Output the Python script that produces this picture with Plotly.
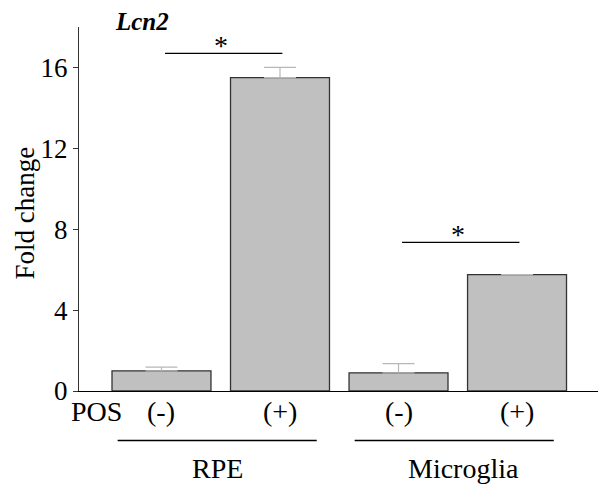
import plotly.graph_objects as go

# data
conditions = ["(-)", "(+)", "(-)", "(+)"]
fold_change = [1.0, 15.5, 0.9, 5.75]
sem = [0.18, 0.5, 0.45, None]
groups = ["RPE", "Microglia"]
group_members = [(0, 1), (2, 3)]
sig_pairs = [(0, 1), (2, 3)]
sig_heights = [16.7, 7.35]
y_ticks = [0, 4, 8, 12, 16]

FONT = "Liberation Serif"
x_pos = list(range(len(conditions)))

fig = go.Figure()
fig.add_trace(go.Bar(
    x=x_pos, y=fold_change, width=0.835,
    marker=dict(color="#c0c0c0", line=dict(color="#333333", width=1.3)),
    error_y=dict(type="data", symmetric=False, array=sem,
                 arrayminus=[0] * len(sem), color="#b8b8b8",
                 thickness=1.2, width=16),
    showlegend=False,
))

shapes = []
annotations = []

# significance bars
for (a, b), h in zip(sig_pairs, sig_heights):
    shapes.append(dict(type="line", xref="x", yref="y", x0=a + 0.03, x1=b + 0.02,
                       y0=h, y1=h, line=dict(color="black", width=1.3)))
    annotations.append(dict(xref="x", yref="y", x=(a + b) / 2, y=h,
                            text="*", showarrow=False, xanchor="center",
                            yanchor="middle", yshift=8,
                            font=dict(family=FONT, size=28, color="black")))

# condition labels under the axis
for xi, lab in zip(x_pos, conditions):
    annotations.append(dict(xref="x", yref="paper", x=xi, y=-0.056, text=lab,
                            showarrow=False, xanchor="center", yanchor="middle",
                            font=dict(family=FONT, size=28, color="black")))
annotations.append(dict(xref="paper", yref="paper", x=0.033, y=-0.056, text="POS",
                        showarrow=False, xanchor="center", yanchor="middle",
                        font=dict(family=FONT, size=28, color="black")))

# group lines and labels
for (name, (a, b)), nudge in zip(zip(groups, group_members), [-0.03, 0.05]):
    shapes.append(dict(type="line", xref="x", yref="paper", x0=a - 0.37, x1=b + 0.31,
                       y0=-0.136, y1=-0.136, line=dict(color="black", width=1.3)))
    annotations.append(dict(xref="x", yref="paper", x=(a + b) / 2 + nudge, y=-0.213,
                            text=name, showarrow=False, xanchor="center",
                            yanchor="middle",
                            font=dict(family=FONT, size=28, color="black")))

# y axis title and gene title
annotations.append(dict(xref="paper", yref="paper", x=-0.104, y=0.49, text="Fold change",
                        textangle=-90, showarrow=False, xanchor="center", yanchor="middle",
                        font=dict(family=FONT, size=27, color="black")))
annotations.append(dict(xref="paper", yref="paper", x=0.121, y=1.015,
                        text="<b><i>Lcn2</i></b>", showarrow=False,
                        xanchor="center", yanchor="middle",
                        font=dict(family=FONT, size=25, color="black")))

# the page body adds an 8px offset, so margins are trimmed to keep the plot in place
fig.update_layout(
    width=606, height=490,
    margin=dict(l=71, r=14, t=19, b=107),
    plot_bgcolor="white", paper_bgcolor="white",
    shapes=shapes, annotations=annotations,
    xaxis=dict(range=[-0.696, 3.70], showticklabels=False, ticks="",
               showgrid=False, zeroline=False, showline=True,
               linecolor="black", linewidth=1.3, fixedrange=True),
    yaxis=dict(range=[0, 18], tickvals=y_ticks, ticks="outside", ticklen=5,
               tickcolor="#333333", showgrid=False, zeroline=False,
               showline=True, linecolor="#333333", linewidth=1.3,
               tickfont=dict(family=FONT, size=27, color="black")),
)

fig.write_html("out.html")
